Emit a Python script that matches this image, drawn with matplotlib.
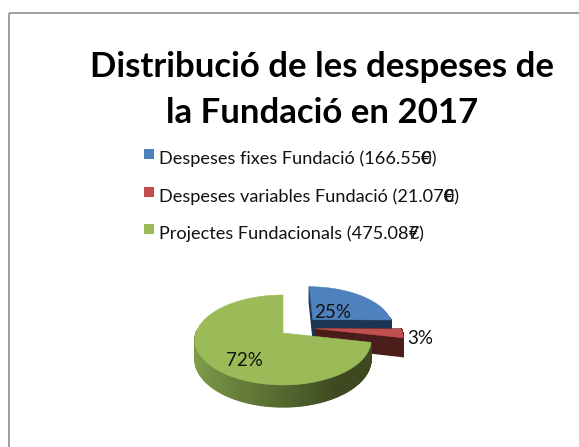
import numpy as np
import matplotlib
matplotlib.use("Agg")
import matplotlib.pyplot as plt
from matplotlib.colors import to_rgb
from matplotlib.collections import PolyCollection
from matplotlib.patches import Rectangle, Polygon

title_lines = ["Distribució de les despeses de", "la Fundació en 2017"]
categories = ["Despeses fixes Fundació", "Despeses variables Fundació", "Projectes Fundacionals"]
amounts = ["166.550", "21.070", "475.087"]
values = [166550, 21070, 475087]
pct_labels = ["25%", "3%", "72%"]
colors = ["#4F81BD", "#C0504D", "#9BBB59"]
side_light = ["#1F3A5F", "#5A2523", "#7F9C4A"]
side_dark = ["#1B3554", "#4A1C1A", "#3D4A20"]
offset_u = [0.36, 0.38, 0.0]
offset_v = [0.32, 0.10, 0.0]
radius = [0.94, 1.0, 1.0]

plt.rcParams['font.family'] = ['Lato', 'DejaVu Sans']
fig = plt.figure(figsize=(5.79, 4.47), dpi=100)
ax = fig.add_axes([0, 0, 1, 1])
ax.set_xlim(0, 579)
ax.set_ylim(447, 0)
ax.axis('off')

ax.add_patch(Rectangle((8.5, 12.5), 700, 600, fill=False, ec='#8E8E8E', lw=1.2))

for line, y in zip(title_lines, [67, 113]):
    ax.text(322, y, line, ha='center', va='center', fontsize=25, fontweight='bold', color='black')

# legend
rend = fig.canvas.get_renderer()
LX, LFS = 159, 13.1
for cat, amt, col, y in zip(categories, amounts, colors, [159, 197, 234]):
    ax.scatter([148.5], [y - 5.5], marker='s', s=62, color=col, linewidths=0)
    full = f"{cat} ({amt})"
    ax.text(LX, y, full, ha='left', va='center', fontsize=LFS, color='#111111')
    probe = ax.text(LX, y, full[:-2], ha='left', va='center', fontsize=LFS)
    w = probe.get_window_extent(rend).width
    probe.remove()
    ax.text(LX + w, y, "€", ha='left', va='center', fontsize=LFS, color='#111111')

# projected pie
CX, CY, R, A, K, D = 283, 333, 87, 43.9, 0.155, 18.6


def proj(u, v):
    s = 1 + K * v
    return CX + R * u / s, CY - A * v / s


def lower(x, y, v):
    return x, y + D / (1 + K * v)


total = sum(values)
fracs = np.array(values) / total
bounds = np.concatenate([[0], np.cumsum(fracs) * 2 * np.pi])
mix = lambda a, b, t: tuple((1 - t) * np.array(to_rgb(a)) + t * np.array(to_rgb(b)))

for i in range(3):
    t0, t1 = bounds[i], bounds[i + 1]
    ou, ov = offset_u[i], offset_v[i]
    th = np.linspace(t0, t1, 200)
    us, vs = ou + radius[i] * np.sin(th), ov + radius[i] * np.cos(th)
    xs, ys = proj(us, vs)
    ax_, ay_ = proj(ou, ov)
    quads, qc = [], []
    # cut faces
    if i < 2:
        for k in (0, -1):
            lx0, ly0 = lower(ax_, ay_, ov)
            lx1, ly1 = lower(xs[k], ys[k], vs[k])
            quads.append([(ax_, ay_), (xs[k], ys[k]), (lx1, ly1), (lx0, ly0)])
            qc.append(side_dark[i])
    # outer rim, front part only
    for j in range(len(th) - 1):
        if np.cos(th[j]) < 0.05:
            lx0, ly0 = lower(xs[j], ys[j], vs[j])
            lx1, ly1 = lower(xs[j + 1], ys[j + 1], vs[j + 1])
            quads.append([(xs[j], ys[j]), (xs[j + 1], ys[j + 1]), (lx1, ly1), (lx0, ly0)])
            f = (np.sin(th[j]) + 1) / 2
            f = np.clip((f - 0.02) / 0.75, 0, 1)
            qc.append(mix(side_light[i], side_dark[i], f) if i == 2 else side_dark[i])
    ax.add_collection(PolyCollection(quads, facecolors=qc, edgecolors=qc, linewidths=0.9))
    ax.add_patch(Polygon(np.column_stack([np.r_[ax_, xs], np.r_[ay_, ys]]), closed=True,
                         fc=colors[i], ec=colors[i], lw=0.4))

for lab, (x, y) in zip(pct_labels, [(333, 312), (420, 339), (244, 361)]):
    ax.text(x, y, lab, ha='center', va='center', fontsize=13.5, color='#111111')

fig.savefig('out.png', dpi=100)
